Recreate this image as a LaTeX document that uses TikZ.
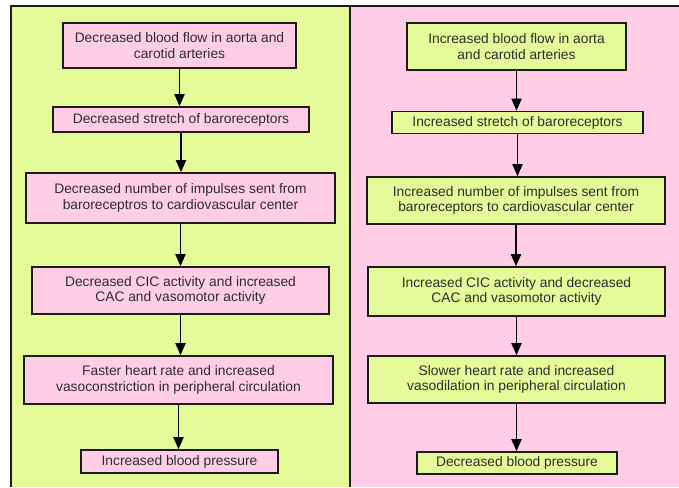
\documentclass[tikz,border=0pt]{standalone}
\usepackage{fontspec}
\setmainfont{Liberation Sans}
\usetikzlibrary{arrows.meta}
\definecolor{limebg}{RGB}{229,250,153}
\definecolor{pinkbg}{RGB}{255,206,230}
\definecolor{ink}{RGB}{28,28,20}
\definecolor{txt}{RGB}{45,45,45}
\tikzset{
  box/.style={draw=ink, line width=1.6pt, inner sep=0pt, align=center,
    text=txt, font=\fontsize{13.8}{15.5}\selectfont},
  lbox/.style={box, fill=pinkbg},
  rbox/.style={box, fill=limebg},
  arr/.style={draw=black, line width=1.8pt, -{Triangle[length=12pt,width=10pt]}},
  frame/.style={draw=ink, line width=2pt}
}
\begin{document}
\begin{tikzpicture}[x=1pt,y=-1pt]
\useasboundingbox (0,0) rectangle (679,487);
\fill[white] (0,0) rectangle (679,487);
\fill[limebg] (10.5,6.5) rectangle (349.5,487);
\fill[pinkbg] (349.5,6.5) rectangle (679,487);
\coordinate (tl) at (10.5,6.5);
\coordinate (tr) at (679,6.5);
\coordinate (bl) at (10.5,487);
\coordinate (dt) at (349.5,6.5);
\coordinate (db) at (349.5,487);
\draw[frame] (bl) -- (tl) -- (tr);
\draw[frame] (dt) -- (db);

% left column
\node[lbox, minimum width=233, minimum height=45] (L1) at (179.5,45.5) {Decreased blood flow in aorta and\\carotid arteries};
\node[lbox, minimum width=256, minimum height=25] (L2) at (181,119.5) {Decreased stretch of baroreceptors};
\node[lbox, minimum width=309, minimum height=50] (L3) at (180.5,198) {Decreased number of impulses sent from\\baroreceptros to cardiovascular center};
\node[lbox, minimum width=297, minimum height=47] (L4) at (180.5,290.5) {Decreased CIC activity and increased\\CAC and vasomotor activity};
\node[lbox, minimum width=309, minimum height=48] (L5) at (178.5,380) {Faster heart rate and increased\\vasoconstriction in peripheral circulation};
\node[lbox, minimum width=197, minimum height=23] (L6) at (179.5,461.5) {Increased blood pressure};

% right column
\node[rbox, minimum width=219, minimum height=47] (R1) at (516.5,46.5) {Increased blood flow in aorta\\and carotid arteries};
\node[rbox, minimum width=251, minimum height=22] (R2) at (517.5,122.5) {Increased stretch of baroreceptors};
\node[rbox, minimum width=298, minimum height=47] (R3) at (516,200.5) {Increased number of impulses sent from\\baroreceptors to cardiovascular center};
\node[rbox, minimum width=297, minimum height=49] (R4) at (516.5,291.5) {Increased CIC activity and decreased\\CAC and vasomotor activity};
\node[rbox, minimum width=297, minimum height=47] (R5) at (516.5,379.5) {Slower heart rate and increased\\vasodilation in peripheral circulation};
\node[rbox, minimum width=200, minimum height=22] (R6) at (517,463) {Decreased blood pressure};

\foreach \a/\b in {L1/L2,L2/L3,L3/L4,L4/L5,L5/L6,R1/R2,R2/R3,R3/R4,R4/R5,R5/R6}
  \draw[arr] (\a.south) -- (\a.south |- \b.north);
\end{tikzpicture}
\end{document}
